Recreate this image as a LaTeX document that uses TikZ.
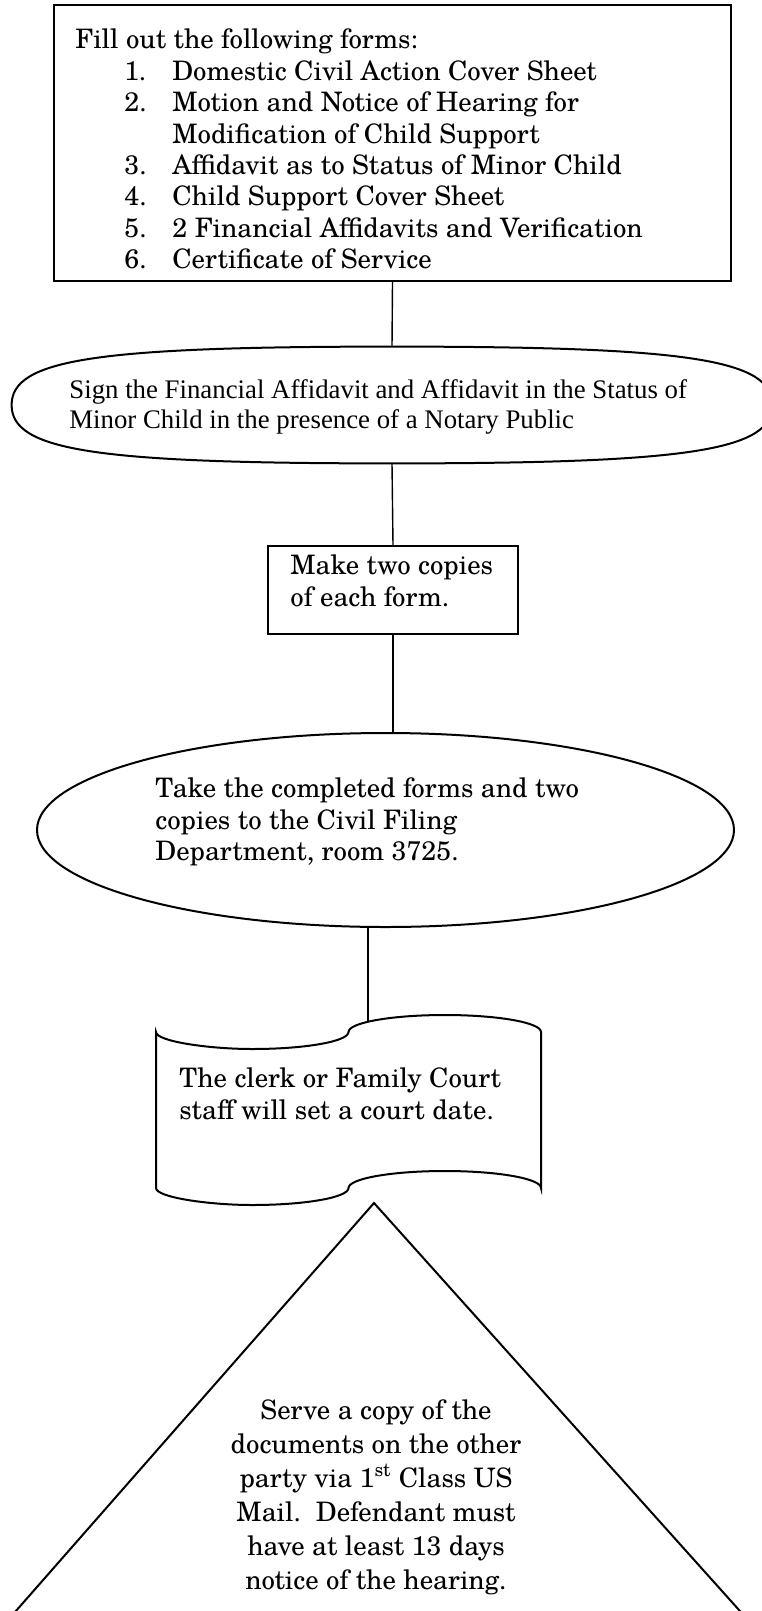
\documentclass[tikz,border=0pt]{standalone}
\usepackage{fontspec}
\setmainfont{TeX Gyre Schola}
\newfontfamily\timesfont{Liberation Serif}
\usetikzlibrary{shapes.geometric,calc}

\newcommand\bodyfont{\fontsize{13.4}{15.9}\selectfont}
\newcommand\listfont{\fontsize{13.4}{15.7}\selectfont}
\newcommand\servefont{\fontsize{13.4}{17}\selectfont}
\newcommand\signfont{\timesfont\fontsize{13.4}{15}\selectfont}

\tikzset{
  shapeline/.style={line width=1pt},
  stepbox/.style={draw, rectangle, line width=1.2pt, inner sep=0pt},
  hold/.style={rectangle, inner sep=0pt},
  link/.style={line width=0.7pt},
  txt/.style={anchor=west, align=left, inner sep=0pt, font=\bodyfont},
}

\begin{document}
\begin{tikzpicture}[x=0.5pt,y=-0.5pt]
  \useasboundingbox (0,0) rectangle (761,1611);
  % forms to fill out
  \node[stepbox, minimum width=338.5pt, minimum height=138pt] (forms) at (392.5,143) {};
  \node[anchor=base west, inner sep=0pt, font=\listfont] (formslist) at (75,49) {%
    \begin{tabular}[t]{@{}p{24.5pt}@{}p{24pt}@{}l@{}}
      \multicolumn{3}{@{}l@{}}{Fill out the following forms:}\\
      & 1. & Domestic Civil Action Cover Sheet\\
      & 2. & Motion and Notice of Hearing for\\
      &    & Modification of Child Support\\
      & 3. & Affidavit as to Status of Minor Child\\
      & 4. & Child Support Cover Sheet\\
      & 5. & 2 Financial Affidavits and Verification\\
      & 6. & Certificate of Service
    \end{tabular}};
  % notary step (rounded oval)
  \node[hold, minimum width=380pt, minimum height=58pt] (sign) at (392,405) {};
  \draw[shapeline] (sign.west)
    .. controls ($(sign.west)!0.78!(sign.north west)$) and ($(sign.north)!0.78!(sign.north west)$) .. (sign.north)
    .. controls ($(sign.north)!0.78!(sign.north east)$) and ($(sign.east)!0.78!(sign.north east)$) .. (sign.east)
    .. controls ($(sign.east)!0.78!(sign.south east)$) and ($(sign.south)!0.78!(sign.south east)$) .. (sign.south)
    .. controls ($(sign.south)!0.78!(sign.south west)$) and ($(sign.west)!0.78!(sign.south west)$) .. (sign.west) -- cycle;
  \node[txt, font=\signfont] (signtext) at (69,407) {Sign the Financial Affidavit and Affidavit in the Status of\\Minor Child in the presence of a Notary Public};
  % copies
  \node[stepbox, line width=1pt, minimum width=125pt, minimum height=44pt] (copies) at (393,590) {};
  \node[txt] (copiestext) at (290,581) {Make two copies\\of each form.};
  % filing department
  \node[hold, minimum width=348.5pt, minimum height=97pt] (take) at (385.5,830) {};
  \draw[shapeline] (take.center) ellipse [x radius=348.5, y radius=97];
  \node[txt] (taketext) at (155,822) {Take the completed forms and two\\copies to the Civil Filing\\Department, room 3725.};
  % court date (punched tape)
  \draw[shapeline] (156,1032)
    .. controls (156,1041.4) and (209.2,1049) .. (252.3,1049)
    .. controls (305.4,1049) and (348.5,1041.4) .. (348.5,1032)
    .. controls (348.5,1022.6) and (391.6,1015) .. (444.8,1015)
    .. controls (497.9,1015) and (541,1022.6) .. (541,1032)
    -- (541,1188)
    .. controls (541,1178.6) and (497.9,1171) .. (444.8,1171)
    .. controls (391.6,1171) and (348.5,1178.6) .. (348.5,1188)
    .. controls (348.5,1197.4) and (305.4,1205) .. (252.3,1205)
    .. controls (209.2,1205) and (156,1197.4) .. (156,1188)
    -- cycle;
  \coordinate (tapein) at (368,1022);
  \node[txt] (clerk) at (179,1094) {The clerk or Family Court\\staff will set a court date.};
  % serving the other party
  \coordinate (apex) at (374,1203);
  \draw[shapeline] (apex) -- (8,1620) -- (748,1620) -- cycle;
  \node[align=center, inner sep=0pt, font=\servefont] (serve) at (376,1497) {Serve a copy of the\\documents on the other\\party via 1\textsuperscript{st} Class US\\Mail.\ \ Defendant must\\have at least 13 days\\notice of the hearing.};
  % connectors
  \draw[link] (forms.south) -- (sign.north);
  \draw[link] (sign.south) -- (copies.north);
  \draw[link] (copies.south) -- (copies.south |- take.north);
  \draw[link] (take.south -| tapein) -- (tapein);
\end{tikzpicture}
\end{document}
